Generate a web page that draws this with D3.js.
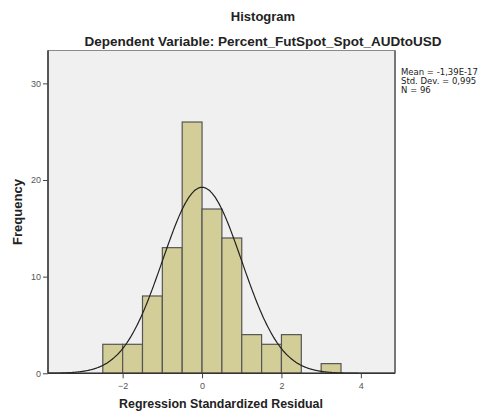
<!DOCTYPE html>
<html><head><meta charset="utf-8">
<script src="https://cdn.jsdelivr.net/npm/d3@7"></script>
<style>body{margin:0;background:#fff;} svg{display:block;font-family:"DejaVu Sans",sans-serif;} .ttl{font-family:"Liberation Sans",Arial,sans-serif;font-weight:bold;}</style>
</head><body><svg id="c" width="485" height="415"></svg>
<script>
const binStarts = [-2.5,-2,-1.5,-1,-0.5,0,0.5,1,1.5,2,2.5,3];
const binWidth = 0.5;
const counts = [3,3,8,13,26,17,14,4,3,4,0,1];
const xTicks = [-2,0,2,4];
const yTicks = [0,10,20,30];
const stats = {mean:-1.39e-17, sd:0.995, n:96};
const statLines = ["Mean = -1,39E-17","Std. Dev. = 0,995","N = 96"];

const svg = d3.select("#c");
const L=48, R=395, T=50.5, B=373.3;
const x = d3.scaleLinear().domain([-3.88,4.86]).range([L,R]);
const y = d3.scaleLinear().domain([0,33.4]).range([B,T]);

svg.append("rect").attr("x",L).attr("y",T).attr("width",R-L).attr("height",B-T).attr("fill","#f0f0f0").attr("stroke","#8a8a8a").attr("stroke-width",1);
svg.append("line").attr("x1",R).attr("x2",R).attr("y1",T).attr("y2",B).attr("stroke","#777").attr("stroke-width",2);

svg.append("g").selectAll("rect").data(counts).join("rect")
  .attr("x",(d,i)=>x(binStarts[i]))
  .attr("width",(d,i)=>x(binStarts[i]+binWidth)-x(binStarts[i]))
  .attr("y",d=>y(d)).attr("height",d=>y(0)-y(d))
  .attr("fill","#d3ce98").attr("stroke","#555").attr("stroke-width",1.2)
  .style("display",d=>d>0?null:"none");

const xs = d3.range(-3.88,4.86,0.02);
const pdf = v => stats.n*binWidth/(stats.sd*Math.sqrt(2*Math.PI))*Math.exp(-0.5*((v-stats.mean)/stats.sd)**2);
svg.append("path").datum(xs).attr("fill","none").attr("stroke","#222").attr("stroke-width",1.2)
  .attr("d",d3.line().x(d=>x(d)).y(d=>y(pdf(d))).curve(d3.curveBasis));

const xa = svg.append("g").attr("transform",`translate(0,${B})`).call(d3.axisBottom(x).tickValues(xTicks).tickSize(5).tickFormat(d=>d<0?"\u2212"+(-d):d));
xa.select(".domain").attr("stroke","#333").attr("stroke-width",1.5).attr("d",`M${L},0H${R}`);
xa.selectAll(".tick line").attr("stroke","#444");
xa.selectAll("text").attr("fill","#555").attr("font-size",9).attr("dy","0.9em");

const ya = svg.append("g").attr("transform",`translate(${L},0)`).call(d3.axisLeft(y).tickValues(yTicks).tickSize(5));
ya.select(".domain").attr("stroke","#333").attr("stroke-width",1.5).attr("d",`M0,${T}V${B}`);
ya.selectAll(".tick line").attr("stroke","#444");
ya.selectAll("text").attr("fill","#555").attr("font-size",9).attr("dx","0.1em");

svg.append("text").attr("class","ttl").attr("x",263).attr("y",21).attr("text-anchor","middle").attr("font-size",13).attr("fill","#222").text("Histogram");
svg.append("text").attr("class","ttl").attr("x",263).attr("y",46).attr("text-anchor","middle").attr("font-size",13.5).attr("fill","#222").text("Dependent Variable: Percent_FutSpot_Spot_AUDtoUSD");
svg.append("text").attr("class","ttl").attr("x",221).attr("y",408).attr("text-anchor","middle").attr("font-size",12.4).attr("fill","#222").text("Regression Standardized Residual");
svg.append("text").attr("class","ttl").attr("transform","translate(22,212) rotate(-90)").attr("text-anchor","middle").attr("font-size",13).attr("fill","#222").text("Frequency");

svg.append("g").selectAll("text").data(statLines).join("text")
  .attr("x",401).attr("y",(d,i)=>75+i*9).attr("font-size",8.5).attr("fill","#222").text(d=>d);
</script></body></html>
